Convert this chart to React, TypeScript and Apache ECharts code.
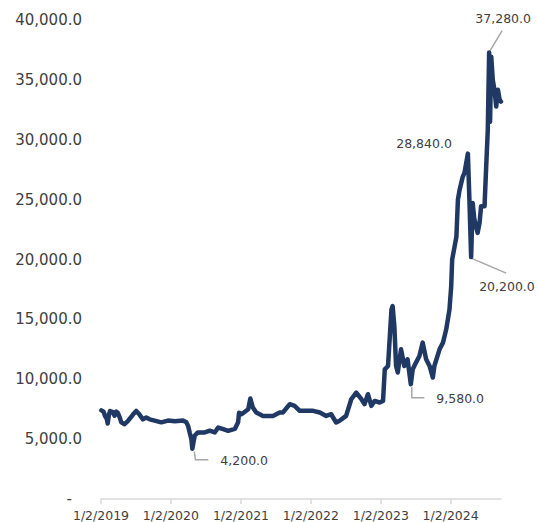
import React, { useEffect, useRef } from "react";
import * as echarts from "echarts";

// ---- data ----
const dates: string[] = [
  "2019-01-04","2019-01-15","2019-01-24","2019-02-01","2019-02-06","2019-02-12","2019-02-18","2019-03-05","2019-03-14","2019-03-22",
  "2019-03-31","2019-04-10","2019-04-18","2019-05-05","2019-05-22","2019-06-18","2019-07-05","2019-07-22","2019-08-09","2019-08-26",
  "2019-09-13","2019-10-09","2019-11-13","2019-12-18","2020-01-23","2020-03-05","2020-03-23","2020-04-01","2020-04-09","2020-04-18",
  "2020-04-23","2020-05-05","2020-05-22","2020-06-27","2020-07-23","2020-08-18","2020-09-05","2020-10-01","2020-10-27","2020-12-01",
  "2020-12-18","2020-12-23","2021-01-05","2021-02-09","2021-02-20","2021-03-05","2021-03-23","2021-04-27","2021-06-18","2021-07-23",
  "2021-08-09","2021-09-14","2021-10-09","2021-11-05","2021-12-09","2022-01-14","2022-02-18","2022-03-23","2022-04-18","2022-05-14",
  "2022-06-01","2022-07-05","2022-08-01","2022-08-27","2022-09-23","2022-10-09","2022-10-27","2022-11-14","2022-12-01","2022-12-27",
  "2023-01-14","2023-01-23","2023-02-09","2023-02-27","2023-03-05","2023-03-14","2023-03-23","2023-04-01","2023-04-18","2023-05-05",
  "2023-05-22","2023-06-08","2023-06-18","2023-07-05","2023-07-23","2023-08-09","2023-08-27","2023-09-14","2023-10-01","2023-10-09",
  "2023-11-05","2023-11-23","2023-12-10","2023-12-27","2024-01-05","2024-01-10","2024-01-23","2024-02-01","2024-02-09","2024-02-18",
  "2024-03-05","2024-03-14","2024-04-01","2024-04-09","2024-04-18","2024-04-26","2024-05-05","2024-05-22","2024-06-01","2024-06-09",
  "2024-06-27","2024-07-05","2024-07-14","2024-07-21","2024-07-26","2024-08-01","2024-08-09","2024-08-18","2024-08-27","2024-09-05",
  "2024-09-14","2024-09-21"
];
const values: number[] = [
  7400,7300,6900,6700,6300,7000,7350,7250,6950,7300,
  7200,6800,6400,6250,6500,7050,7350,7050,6650,6800,
  6650,6550,6400,6550,6500,6550,6400,6100,5550,5000,
  4200,5280,5560,5560,5700,5560,5970,5830,5690,5850,
  6400,7200,7080,7500,8390,7640,7220,6940,6940,7220,
  7220,7920,7780,7360,7360,7360,7220,6940,7080,6390,
  6530,6940,8330,8890,8330,7920,8750,7780,8190,8060,
  8190,10830,11110,15830,16110,14440,11110,10560,12500,11110,
  11670,9580,10830,11390,11940,13060,11670,11110,10140,11110,
  12500,13060,14170,15830,17780,20000,21110,21900,25000,25830,
  26900,27220,28840,25000,20200,24720,23330,22220,23060,24440,
  24440,27500,30830,37280,31500,36940,35000,34170,32780,34170,
  33330,33190
];
const xTickDates: string[] = ["2019-01-02","2020-01-02","2021-01-02","2022-01-02","2023-01-02","2024-01-02"];
const xTickLabels: string[] = ["1/2/2019","1/2/2020","1/2/2021","1/2/2022","1/2/2023","1/2/2024"];
const yTicks: number[] = [0, 5000, 10000, 15000, 20000, 25000, 30000, 35000, 40000];

const annDates: string[] = ["2024-07-21", "2024-04-01", "2024-04-18", "2023-06-08", "2020-04-23"];
const annValues: number[] = [37280, 28840, 20200, 9580, 4200];

// ---- styling / layout of annotations (pixel offsets from point) ----
const annLayout = [
  { line: [[1, -2], [13, -22]], text: [14, -34], align: "center" },
  { line: [], text: [-16, -10], align: "right" },
  { line: [[0, 1], [35, 16]], text: [8, 29], align: "left" },
  { line: [[1, 3], [1, 13.5], [13.5, 13.5]], text: [25.5, 14.5], align: "left" },
  { line: [[2, 3], [3, 11], [16, 11]], text: [28, 12], align: "left" },
];

const DAY = 86400000;
const origin = Date.UTC(2019, 0, 2);
const toDay = (s: string) => {
  const [y, m, d] = s.split("-").map(Number);
  return (Date.UTC(y, m - 1, d) - origin) / DAY;
};
const fmt = (v: number) =>
  v.toLocaleString("en-US", { minimumFractionDigits: 1, maximumFractionDigits: 1 });

const FONT = "DejaVu Sans";
const TEXT_COLOR = "#404040";

export default function App() {
  const ref = useRef<HTMLDivElement>(null);
  useEffect(() => {
    if (!ref.current) return;
    const chart = echarts.init(ref.current, undefined, { renderer: "svg" });
    const tickDays = xTickDates.map(toDay);
    const seriesData = dates.map((d, i) => [toDay(d), values[i]]);
    const xMax = toDay(dates[dates.length - 1]);
    chart.setOption({
      animation: false,
      grid: { left: 101, right: 37, top: 20, bottom: 22, containLabel: false },
      xAxis: {
        type: "value",
        min: 0,
        max: xMax,
        splitLine: { show: false },
        axisLine: { show: true, lineStyle: { color: "#d9d9d9", width: 1.5 } },
        axisTick: { show: true, length: 5, lineStyle: { color: "#d9d9d9", width: 1.5 }, customValues: tickDays },
        axisLabel: {
          customValues: tickDays,
          margin: 10,
          fontFamily: FONT,
          fontSize: 12.5,
          color: TEXT_COLOR,
          formatter: (v: number) => {
            let best = 0;
            tickDays.forEach((t, i) => {
              if (Math.abs(t - v) < Math.abs(tickDays[best] - v)) best = i;
            });
            return xTickLabels[best];
          },
        },
      },
      yAxis: {
        type: "value",
        min: yTicks[0],
        max: yTicks[yTicks.length - 1],
        interval: 5000,
        splitLine: { show: false },
        axisLine: { show: false },
        axisTick: { show: false },
        axisLabel: {
          margin: 19,
          fontFamily: FONT,
          fontSize: 15,
          color: TEXT_COLOR,
          formatter: (v: number) => (v === 0 ? "{d|-}" : fmt(v)),
          rich: { d: { padding: [0, 10, 0, 0], fontFamily: FONT, fontSize: 15, color: TEXT_COLOR } },
        },
      },
      series: [
        {
          type: "line",
          data: seriesData,
          showSymbol: false,
          symbol: "none",
          lineStyle: { color: "#1F3864", width: 4.5, join: "round", cap: "round" },
          z: 3,
        },
      ],
    });

    const graphics: any[] = [];
    annDates.forEach((d, i) => {
      const p = chart.convertToPixel({ xAxisIndex: 0, yAxisIndex: 0 }, [toDay(d), annValues[i]]) as number[];
      const L = annLayout[i];
      if (L.line.length) {
        graphics.push({
          type: "polyline",
          z: 1,
          shape: { points: L.line.map(([dx, dy]) => [p[0] + dx, p[1] + dy]) },
          style: { stroke: "#a6a6a6", lineWidth: 1.5, fill: null },
        });
      }
      graphics.push({
        type: "text",
        z: 5,
        x: p[0] + L.text[0],
        y: p[1] + L.text[1],
        style: {
          text: fmt(annValues[i]),
          fill: TEXT_COLOR,
          fontFamily: FONT,
          fontSize: 12.5,
          align: L.align,
          verticalAlign: "middle",
        },
      });
    });
    chart.setOption({ graphic: graphics });

    return () => chart.dispose();
  }, []);
  return (
    <div
      ref={ref}
      style={{ position: "absolute", left: 0, top: 0, width: 538, height: 522, background: "#fff" }}
    />
  );
}
